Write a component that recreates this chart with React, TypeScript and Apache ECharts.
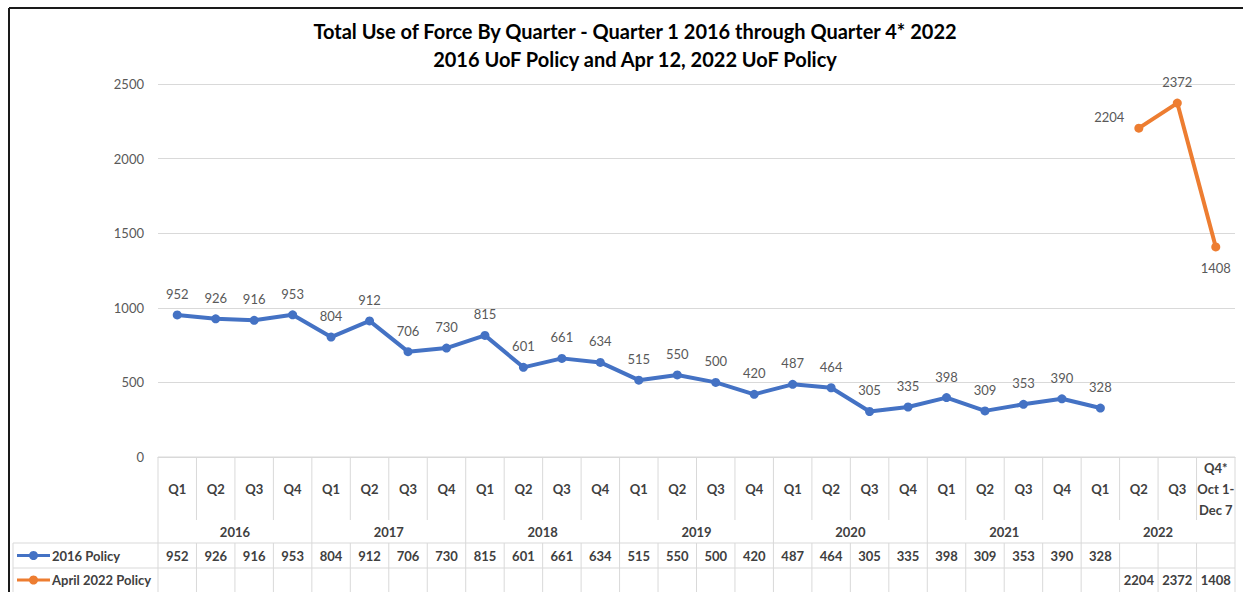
import React, { useEffect, useRef } from "react";
import * as echarts from "echarts";

const quarterLabels = [
  "Q1", "Q2", "Q3", "Q4",
  "Q1", "Q2", "Q3", "Q4",
  "Q1", "Q2", "Q3", "Q4",
  "Q1", "Q2", "Q3", "Q4",
  "Q1", "Q2", "Q3", "Q4",
  "Q1", "Q2", "Q3", "Q4",
  "Q1", "Q2", "Q3", "Q4*\nOct 1-\nDec 7",
];
const years = ["2016", "2017", "2018", "2019", "2020", "2021", "2022"];
const quartersPerYear = [4, 4, 4, 4, 4, 4, 4];
const seriesNames = ["2016 Policy", "April 2022 Policy"];
const policy2016: (number | null)[] = [
  952, 926, 916, 953, 804, 912, 706, 730, 815, 601, 661, 634, 515, 550, 500, 420,
  487, 464, 305, 335, 398, 309, 353, 390, 328, null, null, null,
];
const april2022: (number | null)[] = [
  null, null, null, null, null, null, null, null, null, null, null, null, null, null,
  null, null, null, null, null, null, null, null, null, null, null, 2204, 2372, 1408,
];
const titleLines = [
  "Total Use of Force By Quarter - Quarter 1 2016 through Quarter 4* 2022",
  "2016 UoF Policy and Apr 12, 2022 UoF Policy",
];

const BLUE = "#4472C4";
const ORANGE = "#ED7D31";
const GRID = "#D9D9D9";
const FONT = "Lato, 'Noto Sans', sans-serif";

export default function App() {
  const ref = useRef<HTMLDivElement>(null);
  useEffect(() => {
    if (!ref.current) return;
    const chart = echarts.init(ref.current, null, { renderer: "svg" });
    const categories = quarterLabels.map((q, i) => `c${i}`);
    const aprilLabelPos: any[] = [
      { position: "left", offset: [0, -11] },
      { position: "top" },
      { position: "bottom" },
    ];
    let k = 0;
    const aprilData = april2022.map((v) => {
      if (v == null) return null;
      const lp = aprilLabelPos[k++] || {};
      return { value: v, label: lp };
    });
    chart.setOption({
      animation: false,
      textStyle: { fontFamily: FONT },
      title: {
        text: titleLines.join("\n"),
        left: 630,
        top: 12,
        textAlign: "center",
        textStyle: {
          fontFamily: FONT,
          fontSize: 20,
          fontWeight: "bold",
          color: "#000",
          lineHeight: 28,
        },
      },
      grid: { left: 158, right: 8, top: 84, bottom: 135, containLabel: false },
      xAxis: {
        type: "category",
        data: categories,
        boundaryGap: true,
        axisLine: { show: true, lineStyle: { color: GRID } },
        axisTick: { show: false },
        axisLabel: { show: false },
      },
      yAxis: {
        type: "value",
        min: 0,
        max: 2500,
        interval: 500,
        axisLine: { show: false },
        axisTick: { show: false },
        axisLabel: {
          color: "#595959",
          fontSize: 13,
          margin: 14,
          fontFamily: FONT,
          formatter: (v: number) => String(v),
        },
        splitLine: { lineStyle: { color: GRID, width: 1 } },
      },
      series: [
        {
          name: seriesNames[0],
          type: "line",
          data: policy2016,
          connectNulls: false,
          symbol: "circle",
          symbolSize: 9,
          lineStyle: { color: BLUE, width: 4 },
          itemStyle: { color: BLUE },
          label: {
            show: true,
            position: "top",
            distance: 10,
            color: "#595959",
            fontSize: 13,
            fontFamily: FONT,
          },
        },
        {
          name: seriesNames[1],
          type: "line",
          data: aprilData,
          symbol: "circle",
          symbolSize: 9,
          lineStyle: { color: ORANGE, width: 4 },
          itemStyle: { color: ORANGE },
          label: {
            show: true,
            position: "top",
            distance: 10,
            color: "#595959",
            fontSize: 13,
            fontFamily: FONT,
          },
        },
      ],
    });

    // Build the data table beneath the plot, positioned from the axis scale.
    const c0 = chart.convertToPixel({ xAxisIndex: 0 }, 0) as number;
    const c1 = chart.convertToPixel({ xAxisIndex: 0 }, 1) as number;
    const step = c1 - c0;
    const left = c0 - step / 2;
    const n = quarterLabels.length;
    const right = left + step * n;
    const yTop = chart.convertToPixel({ yAxisIndex: 0 }, 0) as number;
    const qBottom = yTop + 63;
    const yearBottom = yTop + 86;
    const row1Bottom = yTop + 111;
    const tableBottom = 600;
    const legendLeft = 13;
    const H = 592;

    const lineStyle = { stroke: GRID, lineWidth: 1 };
    const g: any[] = [];
    const hline = (x1: number, x2: number, y: number) =>
      g.push({ type: "line", shape: { x1, y1: y, x2, y2: y }, style: lineStyle, silent: true });
    const vline = (x: number, y1: number, y2: number) =>
      g.push({ type: "line", shape: { x1: x, y1, x2: x, y2 }, style: lineStyle, silent: true });

    hline(left, right, yTop);
    hline(legendLeft, right, yearBottom);
    hline(legendLeft, right, row1Bottom);
    vline(left, yTop, tableBottom);
    vline(right, yTop, tableBottom);
    vline(legendLeft, yearBottom, tableBottom);

    const yearBoundaries = new Set<number>();
    let acc = 0;
    quartersPerYear.forEach((q) => {
      acc += q;
      yearBoundaries.add(acc);
    });
    for (let i = 1; i < n; i++) {
      const x = left + step * i;
      if (yearBoundaries.has(i)) {
        vline(x, yTop, tableBottom);
      } else {
        vline(x, yTop, qBottom);
        vline(x, yearBottom, tableBottom);
      }
    }

    const txt = (text: string, x: number, y: number, extra: any = {}) =>
      g.push({
        type: "text",
        x,
        y,
        silent: true,
        style: {
          text,
          fill: "#404040",
          font: `bold 13px ${FONT}`,
          align: "center",
          verticalAlign: "middle",
          lineHeight: 21,
          ...extra,
        },
      });

    quarterLabels.forEach((q, i) => {
      txt(q, left + step * (i + 0.5), (yTop + qBottom) / 2);
    });
    let start = 0;
    years.forEach((yr, j) => {
      const cnt = quartersPerYear[j];
      txt(yr, left + step * (start + cnt / 2), (qBottom + yearBottom) / 2);
      start += cnt;
    });
    const row1Y = (yearBottom + row1Bottom) / 2;
    const row2Y = row1Bottom + 12;
    policy2016.forEach((v, i) => {
      if (v != null) txt(String(v), left + step * (i + 0.5), row1Y);
    });
    april2022.forEach((v, i) => {
      if (v != null) txt(String(v), left + step * (i + 0.5), row2Y);
    });

    // legend keys inside the table
    const keys = [
      { name: seriesNames[0], color: BLUE, y: row1Y },
      { name: seriesNames[1], color: ORANGE, y: row2Y },
    ];
    keys.forEach((kk) => {
      g.push({
        type: "line",
        silent: true,
        shape: { x1: 17, y1: kk.y, x2: 50, y2: kk.y },
        style: { stroke: kk.color, lineWidth: 3 },
      });
      g.push({
        type: "circle",
        silent: true,
        shape: { cx: 33.5, cy: kk.y, r: 4.5 },
        style: { fill: kk.color },
      });
      txt(kk.name, 52, kk.y, { align: "left" });
    });

    // chart frame (top and left edges)
    g.push({
      type: "line",
      silent: true,
      shape: { x1: 9, y1: 8, x2: 1243, y2: 8 },
      style: { stroke: "#1a1a1a", lineWidth: 2 },
    });
    g.push({
      type: "line",
      silent: true,
      shape: { x1: 9, y1: 8, x2: 9, y2: H },
      style: { stroke: "#1a1a1a", lineWidth: 2 },
    });

    chart.setOption({ graphic: g });

    return () => chart.dispose();
  }, []);

  return (
    <div
      ref={ref}
      style={{ position: "fixed", left: 0, top: 0, width: 1243, height: 592, background: "#fff" }}
    />
  );
}
